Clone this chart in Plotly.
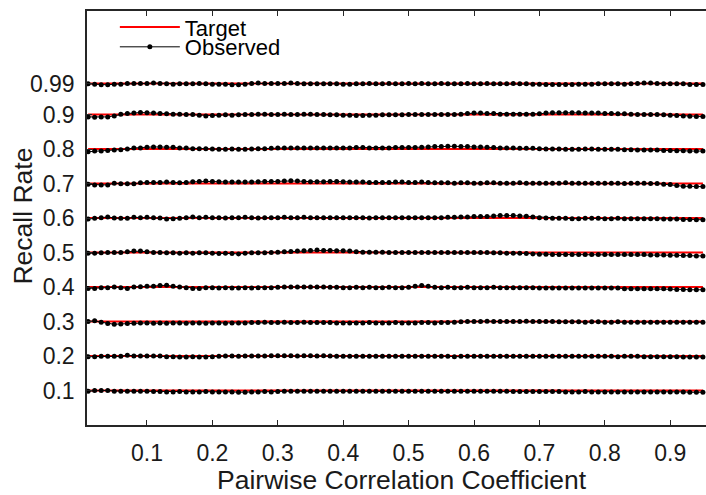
import plotly.graph_objects as go

# Pairwise correlation coefficient grid (0.01 .. 0.95)
corr = [round(0.01 * k, 2) for k in range(1, 96)]

targets = [0.99, 0.9, 0.8, 0.7, 0.6, 0.5, 0.4, 0.3, 0.2, 0.1]

obs_099 = [0.989, 0.988, 0.986, 0.986, 0.988, 0.988, 0.990, 0.990, 0.990, 0.990,
           0.991, 0.990, 0.989, 0.988, 0.989, 0.989, 0.989, 0.990, 0.989, 0.988,
           0.988, 0.988, 0.986, 0.986, 0.988, 0.990, 0.991, 0.990, 0.990, 0.990,
           0.990, 0.991, 0.990, 0.989, 0.989, 0.989, 0.989, 0.989, 0.989, 0.988,
           0.988, 0.989, 0.989, 0.990, 0.989, 0.989, 0.990, 0.989, 0.989, 0.990,
           0.989, 0.990, 0.989, 0.989, 0.990, 0.989, 0.989, 0.989, 0.990, 0.989,
           0.989, 0.990, 0.989, 0.989, 0.989, 0.990, 0.989, 0.989, 0.988, 0.988,
           0.987, 0.987, 0.987, 0.987, 0.987, 0.988, 0.988, 0.988, 0.989, 0.989,
           0.989, 0.989, 0.988, 0.989, 0.990, 0.991, 0.991, 0.990, 0.989, 0.989,
           0.989, 0.989, 0.987, 0.987, 0.987]

obs_090 = [0.893, 0.892, 0.893, 0.893, 0.896, 0.901, 0.903, 0.904, 0.906, 0.905,
           0.904, 0.903, 0.902, 0.901, 0.901, 0.900, 0.900, 0.898, 0.896, 0.897,
           0.898, 0.899, 0.898, 0.899, 0.900, 0.900, 0.901, 0.901, 0.900, 0.900,
           0.901, 0.900, 0.900, 0.901, 0.901, 0.900, 0.900, 0.899, 0.899, 0.898,
           0.898, 0.897, 0.897, 0.898, 0.898, 0.899, 0.899, 0.899, 0.899, 0.900,
           0.900, 0.900, 0.900, 0.900, 0.900, 0.900, 0.900, 0.901, 0.903, 0.904,
           0.904, 0.903, 0.903, 0.901, 0.901, 0.901, 0.901, 0.901, 0.901, 0.902,
           0.904, 0.905, 0.905, 0.905, 0.905, 0.905, 0.904, 0.904, 0.904, 0.903,
           0.903, 0.902, 0.902, 0.901, 0.900, 0.900, 0.900, 0.900, 0.899, 0.898,
           0.897, 0.896, 0.895, 0.894, 0.894]

obs_080 = [0.792, 0.794, 0.794, 0.796, 0.797, 0.798, 0.800, 0.803, 0.803, 0.805,
           0.806, 0.806, 0.805, 0.805, 0.803, 0.803, 0.801, 0.801, 0.801, 0.800,
           0.799, 0.799, 0.800, 0.799, 0.799, 0.800, 0.801, 0.801, 0.802, 0.803,
           0.803, 0.803, 0.803, 0.803, 0.803, 0.803, 0.803, 0.803, 0.803, 0.803,
           0.803, 0.804, 0.804, 0.803, 0.803, 0.803, 0.803, 0.804, 0.804, 0.804,
           0.804, 0.805, 0.806, 0.807, 0.807, 0.808, 0.808, 0.807, 0.807, 0.806,
           0.806, 0.805, 0.804, 0.803, 0.803, 0.803, 0.802, 0.802, 0.802, 0.801,
           0.800, 0.800, 0.800, 0.799, 0.799, 0.799, 0.800, 0.800, 0.799, 0.799,
           0.799, 0.799, 0.798, 0.798, 0.797, 0.797, 0.797, 0.797, 0.796, 0.796,
           0.795, 0.795, 0.794, 0.794, 0.794]

obs_070 = [0.698, 0.696, 0.696, 0.696, 0.701, 0.699, 0.699, 0.699, 0.702, 0.703,
           0.703, 0.703, 0.704, 0.703, 0.702, 0.703, 0.705, 0.706, 0.707, 0.706,
           0.705, 0.704, 0.704, 0.704, 0.704, 0.704, 0.705, 0.706, 0.706, 0.706,
           0.707, 0.708, 0.707, 0.706, 0.705, 0.705, 0.705, 0.706, 0.706, 0.705,
           0.704, 0.704, 0.704, 0.703, 0.703, 0.703, 0.703, 0.704, 0.704, 0.703,
           0.703, 0.704, 0.703, 0.702, 0.702, 0.702, 0.701, 0.702, 0.702, 0.701,
           0.701, 0.702, 0.702, 0.701, 0.701, 0.701, 0.702, 0.701, 0.701, 0.701,
           0.701, 0.701, 0.701, 0.702, 0.701, 0.701, 0.701, 0.701, 0.701, 0.701,
           0.701, 0.701, 0.700, 0.701, 0.701, 0.701, 0.700, 0.700, 0.698, 0.697,
           0.694, 0.692, 0.692, 0.691, 0.691]

obs_060 = [0.597, 0.599, 0.601, 0.603, 0.600, 0.599, 0.599, 0.602, 0.601, 0.602,
           0.601, 0.600, 0.597, 0.598, 0.599, 0.601, 0.603, 0.601, 0.602, 0.601,
           0.601, 0.600, 0.601, 0.601, 0.602, 0.601, 0.600, 0.601, 0.601, 0.601,
           0.602, 0.601, 0.601, 0.602, 0.601, 0.601, 0.601, 0.601, 0.601, 0.601,
           0.601, 0.601, 0.601, 0.600, 0.601, 0.601, 0.601, 0.601, 0.601, 0.601,
           0.601, 0.601, 0.601, 0.601, 0.601, 0.602, 0.602, 0.603, 0.603, 0.604,
           0.604, 0.604, 0.606, 0.607, 0.607, 0.607, 0.606, 0.605, 0.603, 0.601,
           0.600, 0.599, 0.599, 0.599, 0.598, 0.598, 0.599, 0.599, 0.599, 0.598,
           0.598, 0.599, 0.598, 0.598, 0.598, 0.598, 0.598, 0.598, 0.597, 0.597,
           0.597, 0.596, 0.596, 0.595, 0.595]

obs_050 = [0.498, 0.498, 0.499, 0.500, 0.500, 0.500, 0.502, 0.504, 0.504, 0.502,
           0.500, 0.500, 0.499, 0.499, 0.498, 0.499, 0.498, 0.499, 0.499, 0.498,
           0.497, 0.498, 0.497, 0.496, 0.498, 0.499, 0.499, 0.499, 0.500, 0.501,
           0.502, 0.503, 0.504, 0.505, 0.506, 0.507, 0.506, 0.506, 0.505, 0.505,
           0.504, 0.502, 0.501, 0.501, 0.501, 0.501, 0.500, 0.500, 0.500, 0.500,
           0.500, 0.500, 0.500, 0.500, 0.500, 0.500, 0.500, 0.500, 0.500, 0.500,
           0.500, 0.500, 0.499, 0.499, 0.498, 0.498, 0.498, 0.497, 0.496, 0.495,
           0.495, 0.494, 0.494, 0.494, 0.494, 0.494, 0.494, 0.494, 0.494, 0.494,
           0.494, 0.494, 0.494, 0.494, 0.494, 0.494, 0.493, 0.493, 0.493, 0.492,
           0.492, 0.491, 0.491, 0.490, 0.490]

obs_040 = [0.396, 0.396, 0.398, 0.398, 0.400, 0.398, 0.396, 0.400, 0.401, 0.402,
           0.402, 0.404, 0.405, 0.402, 0.400, 0.398, 0.396, 0.396, 0.398, 0.398,
           0.397, 0.398, 0.397, 0.397, 0.398, 0.397, 0.398, 0.398, 0.398, 0.399,
           0.400, 0.400, 0.400, 0.400, 0.400, 0.400, 0.400, 0.399, 0.399, 0.398,
           0.398, 0.399, 0.398, 0.399, 0.398, 0.398, 0.399, 0.398, 0.398, 0.399,
           0.402, 0.404, 0.402, 0.399, 0.398, 0.399, 0.398, 0.398, 0.399, 0.398,
           0.398, 0.398, 0.399, 0.398, 0.398, 0.398, 0.398, 0.398, 0.398, 0.397,
           0.397, 0.397, 0.397, 0.397, 0.397, 0.397, 0.397, 0.397, 0.397, 0.397,
           0.397, 0.397, 0.395, 0.395, 0.395, 0.395, 0.395, 0.395, 0.395, 0.394,
           0.393, 0.393, 0.392, 0.392, 0.392]

obs_030 = [0.300, 0.302, 0.298, 0.294, 0.292, 0.293, 0.294, 0.295, 0.296, 0.296,
           0.295, 0.296, 0.295, 0.296, 0.296, 0.295, 0.296, 0.296, 0.295, 0.296,
           0.296, 0.295, 0.296, 0.296, 0.296, 0.297, 0.297, 0.298, 0.297, 0.297,
           0.298, 0.297, 0.297, 0.298, 0.297, 0.297, 0.297, 0.297, 0.296, 0.296,
           0.296, 0.296, 0.296, 0.297, 0.296, 0.296, 0.296, 0.297, 0.296, 0.296,
           0.296, 0.297, 0.297, 0.296, 0.297, 0.297, 0.298, 0.299, 0.300, 0.300,
           0.300, 0.301, 0.300, 0.300, 0.300, 0.300, 0.300, 0.301, 0.300, 0.300,
           0.300, 0.300, 0.299, 0.299, 0.299, 0.299, 0.298, 0.299, 0.299, 0.298,
           0.298, 0.299, 0.298, 0.298, 0.298, 0.298, 0.298, 0.298, 0.298, 0.298,
           0.298, 0.298, 0.298, 0.298, 0.298]

obs_020 = [0.198, 0.198, 0.199, 0.199, 0.199, 0.199, 0.202, 0.200, 0.200, 0.200,
           0.200, 0.200, 0.198, 0.198, 0.197, 0.197, 0.198, 0.197, 0.197, 0.198,
           0.199, 0.200, 0.200, 0.199, 0.200, 0.200, 0.200, 0.200, 0.201, 0.201,
           0.201, 0.201, 0.200, 0.201, 0.201, 0.200, 0.201, 0.200, 0.199, 0.199,
           0.199, 0.199, 0.199, 0.199, 0.199, 0.199, 0.199, 0.199, 0.199, 0.199,
           0.199, 0.199, 0.199, 0.199, 0.199, 0.199, 0.198, 0.199, 0.199, 0.199,
           0.199, 0.199, 0.199, 0.199, 0.199, 0.199, 0.199, 0.199, 0.199, 0.199,
           0.199, 0.199, 0.199, 0.199, 0.199, 0.199, 0.199, 0.199, 0.199, 0.199,
           0.199, 0.198, 0.199, 0.199, 0.199, 0.198, 0.198, 0.198, 0.198, 0.198,
           0.198, 0.197, 0.197, 0.197, 0.197]

obs_010 = [0.098, 0.100, 0.100, 0.100, 0.098, 0.098, 0.098, 0.098, 0.098, 0.098,
           0.097, 0.097, 0.096, 0.096, 0.097, 0.096, 0.096, 0.096, 0.097, 0.096,
           0.096, 0.096, 0.096, 0.095, 0.095, 0.096, 0.096, 0.097, 0.096, 0.097,
           0.098, 0.098, 0.098, 0.098, 0.098, 0.098, 0.098, 0.098, 0.098, 0.098,
           0.098, 0.098, 0.098, 0.098, 0.098, 0.098, 0.098, 0.098, 0.098, 0.098,
           0.098, 0.098, 0.098, 0.098, 0.098, 0.098, 0.098, 0.098, 0.098, 0.098,
           0.098, 0.098, 0.098, 0.098, 0.098, 0.097, 0.097, 0.097, 0.097, 0.097,
           0.097, 0.097, 0.097, 0.096, 0.096, 0.096, 0.097, 0.096, 0.096, 0.096,
           0.096, 0.096, 0.096, 0.096, 0.096, 0.096, 0.096, 0.096, 0.096, 0.096,
           0.096, 0.096, 0.095, 0.095, 0.095]

observed = [obs_099, obs_090, obs_080, obs_070, obs_060,
            obs_050, obs_040, obs_030, obs_020, obs_010]

x_ticks = [0.1, 0.2, 0.3, 0.4, 0.5, 0.6, 0.7, 0.8, 0.9]
x_ticktext = ["0.1", "0.2", "0.3", "0.4", "0.5", "0.6", "0.7", "0.8", "0.9"]
y_ticks = [0.1, 0.2, 0.3, 0.4, 0.5, 0.6, 0.7, 0.8, 0.9, 0.99]
y_ticktext = ["0.1", "0.2", "0.3", "0.4", "0.5", "0.6", "0.7", "0.8", "0.9", "0.99"]

FONT = "Liberation Sans, Arial, Helvetica, sans-serif"
AX = "#262626"

fig = go.Figure()

for k, t in enumerate(targets):
    fig.add_trace(go.Scatter(
        x=corr, y=[t] * len(corr), mode="lines",
        line=dict(color="#ff0000", width=2),
        name="Target", legendgroup="target", showlegend=(k == 0),
        legend="legend"))

for k, obs in enumerate(observed):
    fig.add_trace(go.Scatter(
        x=corr, y=obs, mode="lines+markers",
        line=dict(color="#000000", width=1),
        marker=dict(color="#000000", size=5),
        name="Observed", legendgroup="observed", showlegend=(k == 0),
        legend="legend2"))

fig.update_layout(
    width=706, height=495,
    margin=dict(l=87, r=0, t=11, b=70),
    paper_bgcolor="white", plot_bgcolor="white",
    font=dict(family=FONT, color="#000000"),
    showlegend=True,
    legend=dict(x=0.045, y=0.961, xanchor="left", yanchor="middle", itemwidth=60,
                bgcolor="rgba(0,0,0,0)", font=dict(size=22, family=FONT, color="#000"),
                borderwidth=0),
    legend2=dict(x=0.045, y=0.913, xanchor="left", yanchor="middle", itemwidth=60,
                 bgcolor="rgba(0,0,0,0)", font=dict(size=22, family=FONT, color="#000"),
                 borderwidth=0),
    xaxis=dict(range=[0.0083, 0.9547], tickvals=x_ticks, ticktext=x_ticktext,
               ticks="inside", ticklen=5, tickcolor=AX, tickwidth=1,
               showline=True, linecolor=AX, linewidth=1.5, mirror="ticks",
               showgrid=False, zeroline=False,
               tickfont=dict(size=23, family=FONT, color="#1a1a1a"),
               ticklabelstandoff=7),
    yaxis=dict(range=[0, 1.2], tickvals=y_ticks, ticktext=y_ticktext,
               ticks="inside", ticklen=5, tickcolor=AX, tickwidth=1,
               showline=True, linecolor=AX, linewidth=1.5, mirror=False,
               showgrid=False, zeroline=False,
               tickfont=dict(size=23, family=FONT, color="#1a1a1a"),
               ticklabelstandoff=6),
    annotations=[
        dict(text="Pairwise Correlation Coefficient", xref="paper", yref="paper",
             x=0.509, y=-0.132, xanchor="center", yanchor="middle", showarrow=False,
             font=dict(size=26.5, family=FONT, color="#1a1a1a")),
        dict(text="Recall Rate", xref="paper", yref="paper",
             x=-0.103, y=0.504, xanchor="center", yanchor="middle", showarrow=False,
             textangle=-90, font=dict(size=26.5, family=FONT, color="#1a1a1a")),
    ],
)

fig.write_html("out.html")
